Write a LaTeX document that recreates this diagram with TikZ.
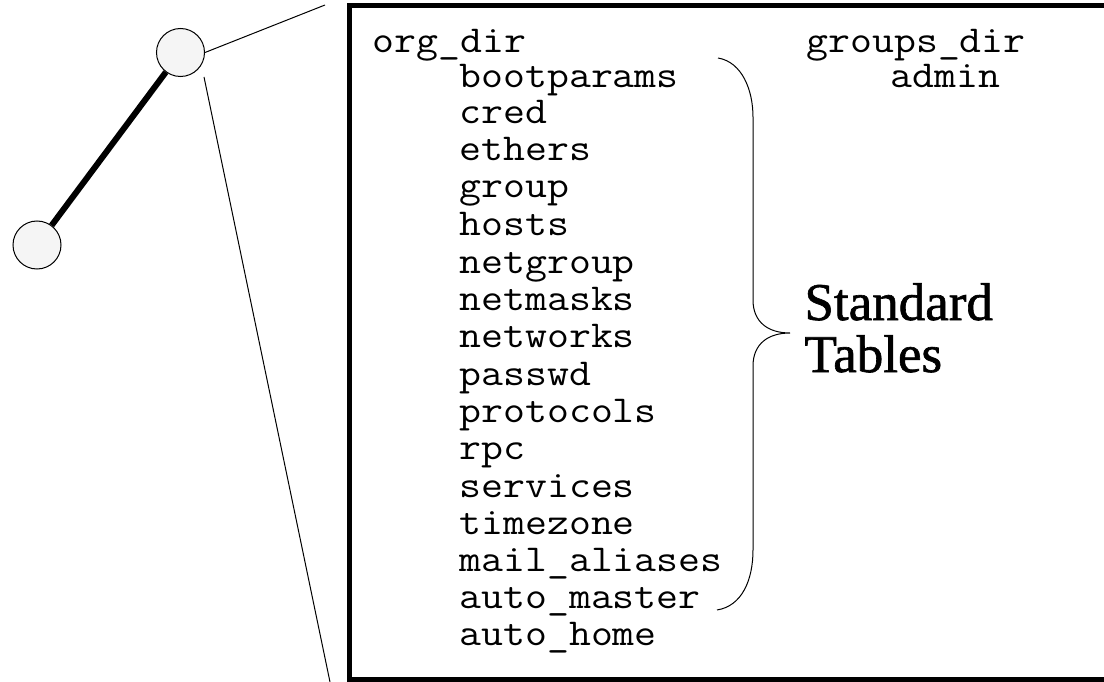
\documentclass[tikz,border=0pt]{standalone}
\usepackage{fontspec}
\setmainfont{Liberation Serif}
\setmonofont[FakeStretch=1.12]{Latin Modern Mono}
\newfontfamily\tablefont[FakeBold=1.2]{Liberation Serif}

\tikzset{every picture/.style={line width=1pt}}
\tikzset{
  dirnode/.style={circle,draw,fill=black!4,minimum size=48pt,inner sep=0pt},
  tbl/.style={anchor=base west,inner sep=0pt,text height=22pt,text depth=6pt,
    font=\fontsize{38}{37}\selectfont\ttfamily},
}

\begin{document}
\begin{tikzpicture}[x=1pt,y=1pt,yscale=-1,xscale=1]
\useasboundingbox (0,0) rectangle (1104,682);

%Shape: Circle [top]
\node[dirnode] (topdir) at (180.5,52.5) {};
%Shape: Circle [bottom]
\node[dirnode] (lowdir) at (37,245) {};
%Straight Lines [thick link]
\draw[line width=6pt] (topdir) -- (lowdir);

%Zoom lines
\coordinate (zoomtop) at (325,5);
\coordinate (zoomstart) at (204,77);
\coordinate (zoomend) at (330,682);
\draw (topdir.east) -- (zoomtop);
\draw (zoomstart) -- (zoomend);

%Flowchart: Process [zoomed box]
\draw[line width=5pt] (1120,5.5) -- (349.5,5.5) -- (349.5,679.5) -- (1120,679.5);

% Text Node
\node[tbl] (orgdir) at (372,53) {org\_dir};
\node[tbl] (bootparams) at (459,88) {bootparams};
\node[tbl] (cred) at (459,124) {cred};
\node[tbl] (ethers) at (459,161) {ethers};
\node[tbl] (group) at (459,198) {group};
\node[tbl] (hosts) at (459,235.5) {hosts};
\node[tbl] (netgroup) at (459,273) {netgroup};
\node[tbl] (netmasks) at (459,310) {netmasks};
\node[tbl] (networks) at (459,347.5) {networks};
\node[tbl] (passwd) at (459,385) {passwd};
\node[tbl] (protocols) at (459,422) {protocols};
\node[tbl] (rpc) at (459,459.5) {rpc};
\node[tbl] (services) at (459,497) {services};
\node[tbl] (timezone) at (459,534) {timezone};
\node[tbl] (mailaliases) at (459,571) {mail\_aliases};
\node[tbl] (automaster) at (459,608) {auto\_master};
\node[tbl] (autohome) at (459,645) {auto\_home};
% Text Node
\node[tbl] (groupsdir) at (806,53) {groups\_dir};
\node[tbl] (admin) at (890,88) {admin};

%Shape: Brace
\coordinate (bracetop) at (718,58);
\coordinate (bracetip) at (790,333);
\coordinate (bracebot) at (717,610);
\draw (bracetop) .. controls (742,62) and (753,90) .. (753,117) -- (753,300)
  .. controls (753,322) and (768,333) .. (bracetip)
  .. controls (768,333) and (753,344) .. (753,366) -- (753,550)
  .. controls (753,580) and (742,606) .. (bracebot);

% Text Node
\node[anchor=base west,inner sep=0pt,align=left,font=\fontsize{53}{52}\selectfont\tablefont] (stdtables) at (804,372) {Standard\\Tables};

\end{tikzpicture}
\end{document}
